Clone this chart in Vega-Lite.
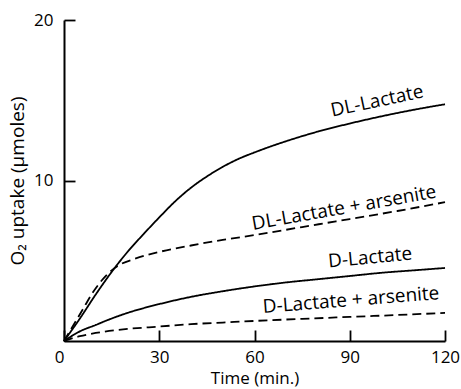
{
  "$schema": "https://vega.github.io/schema/vega-lite/v6.json",
  "autosize": {"type": "none"},
  "padding": {"left": 64, "top": 20, "right": 16, "bottom": 48},
  "width": 381,
  "height": 321,
  "background": "white",
  "config": {
    "view": {"stroke": null},
    "font": "Open Sans",
    "axis": {
      "grid": false,
      "domainColor": "black",
      "domainWidth": 2,
      "tickColor": "black",
      "tickWidth": 1.8,
      "tickSize": -11,
      "labelFont": "Open Sans",
      "labelFontSize": 17,
      "labelColor": "black",
      "titleFont": "Open Sans",
      "titleFontSize": 17,
      "titleFontWeight": "normal",
      "titleColor": "black"
    }
  },
  "datasets": {
    "curves": [
      {"series": "DL-Lactate", "arsenite": "no", "t": 0, "uptake": 0},
      {"series": "DL-Lactate", "arsenite": "no", "t": 5, "uptake": 1.4},
      {"series": "DL-Lactate", "arsenite": "no", "t": 10, "uptake": 2.9},
      {"series": "DL-Lactate", "arsenite": "no", "t": 15, "uptake": 4.3},
      {"series": "DL-Lactate", "arsenite": "no", "t": 20, "uptake": 5.55},
      {"series": "DL-Lactate", "arsenite": "no", "t": 25, "uptake": 6.65},
      {"series": "DL-Lactate", "arsenite": "no", "t": 30, "uptake": 7.7},
      {"series": "DL-Lactate", "arsenite": "no", "t": 35, "uptake": 8.7},
      {"series": "DL-Lactate", "arsenite": "no", "t": 40, "uptake": 9.55},
      {"series": "DL-Lactate", "arsenite": "no", "t": 45, "uptake": 10.25},
      {"series": "DL-Lactate", "arsenite": "no", "t": 50, "uptake": 10.85},
      {"series": "DL-Lactate", "arsenite": "no", "t": 55, "uptake": 11.35},
      {"series": "DL-Lactate", "arsenite": "no", "t": 60, "uptake": 11.75},
      {"series": "DL-Lactate", "arsenite": "no", "t": 70, "uptake": 12.45},
      {"series": "DL-Lactate", "arsenite": "no", "t": 80, "uptake": 13.05},
      {"series": "DL-Lactate", "arsenite": "no", "t": 90, "uptake": 13.55},
      {"series": "DL-Lactate", "arsenite": "no", "t": 100, "uptake": 14.0},
      {"series": "DL-Lactate", "arsenite": "no", "t": 110, "uptake": 14.4},
      {"series": "DL-Lactate", "arsenite": "no", "t": 120, "uptake": 14.75},
      {"series": "DL-Lactate + arsenite", "arsenite": "yes", "t": 0, "uptake": 0},
      {"series": "DL-Lactate + arsenite", "arsenite": "yes", "t": 3, "uptake": 1.0},
      {"series": "DL-Lactate + arsenite", "arsenite": "yes", "t": 6, "uptake": 2.0},
      {"series": "DL-Lactate + arsenite", "arsenite": "yes", "t": 9, "uptake": 3.0},
      {"series": "DL-Lactate + arsenite", "arsenite": "yes", "t": 12, "uptake": 3.8},
      {"series": "DL-Lactate + arsenite", "arsenite": "yes", "t": 15, "uptake": 4.4},
      {"series": "DL-Lactate + arsenite", "arsenite": "yes", "t": 18, "uptake": 4.8},
      {"series": "DL-Lactate + arsenite", "arsenite": "yes", "t": 22, "uptake": 5.1},
      {"series": "DL-Lactate + arsenite", "arsenite": "yes", "t": 26, "uptake": 5.35},
      {"series": "DL-Lactate + arsenite", "arsenite": "yes", "t": 30, "uptake": 5.55},
      {"series": "DL-Lactate + arsenite", "arsenite": "yes", "t": 40, "uptake": 5.95},
      {"series": "DL-Lactate + arsenite", "arsenite": "yes", "t": 50, "uptake": 6.3},
      {"series": "DL-Lactate + arsenite", "arsenite": "yes", "t": 60, "uptake": 6.6},
      {"series": "DL-Lactate + arsenite", "arsenite": "yes", "t": 75, "uptake": 7.1},
      {"series": "DL-Lactate + arsenite", "arsenite": "yes", "t": 90, "uptake": 7.6},
      {"series": "DL-Lactate + arsenite", "arsenite": "yes", "t": 105, "uptake": 8.1},
      {"series": "DL-Lactate + arsenite", "arsenite": "yes", "t": 120, "uptake": 8.65},
      {"series": "D-Lactate", "arsenite": "no", "t": 0, "uptake": 0},
      {"series": "D-Lactate", "arsenite": "no", "t": 5, "uptake": 0.6},
      {"series": "D-Lactate", "arsenite": "no", "t": 10, "uptake": 1.0},
      {"series": "D-Lactate", "arsenite": "no", "t": 15, "uptake": 1.4},
      {"series": "D-Lactate", "arsenite": "no", "t": 20, "uptake": 1.75},
      {"series": "D-Lactate", "arsenite": "no", "t": 30, "uptake": 2.3},
      {"series": "D-Lactate", "arsenite": "no", "t": 40, "uptake": 2.75},
      {"series": "D-Lactate", "arsenite": "no", "t": 50, "uptake": 3.1},
      {"series": "D-Lactate", "arsenite": "no", "t": 60, "uptake": 3.4},
      {"series": "D-Lactate", "arsenite": "no", "t": 70, "uptake": 3.65},
      {"series": "D-Lactate", "arsenite": "no", "t": 80, "uptake": 3.85},
      {"series": "D-Lactate", "arsenite": "no", "t": 90, "uptake": 4.05},
      {"series": "D-Lactate", "arsenite": "no", "t": 100, "uptake": 4.25},
      {"series": "D-Lactate", "arsenite": "no", "t": 110, "uptake": 4.4},
      {"series": "D-Lactate", "arsenite": "no", "t": 120, "uptake": 4.55},
      {"series": "D-Lactate + arsenite", "arsenite": "yes", "t": 0, "uptake": 0},
      {"series": "D-Lactate + arsenite", "arsenite": "yes", "t": 5, "uptake": 0.3},
      {"series": "D-Lactate + arsenite", "arsenite": "yes", "t": 10, "uptake": 0.5},
      {"series": "D-Lactate + arsenite", "arsenite": "yes", "t": 20, "uptake": 0.75},
      {"series": "D-Lactate + arsenite", "arsenite": "yes", "t": 30, "uptake": 0.9},
      {"series": "D-Lactate + arsenite", "arsenite": "yes", "t": 40, "uptake": 1.05},
      {"series": "D-Lactate + arsenite", "arsenite": "yes", "t": 50, "uptake": 1.15},
      {"series": "D-Lactate + arsenite", "arsenite": "yes", "t": 60, "uptake": 1.25},
      {"series": "D-Lactate + arsenite", "arsenite": "yes", "t": 75, "uptake": 1.38},
      {"series": "D-Lactate + arsenite", "arsenite": "yes", "t": 90, "uptake": 1.5},
      {"series": "D-Lactate + arsenite", "arsenite": "yes", "t": 105, "uptake": 1.62},
      {"series": "D-Lactate + arsenite", "arsenite": "yes", "t": 120, "uptake": 1.75}
    ]
  },
  "layer": [
    {
      "data": {"name": "curves"},
      "mark": {"type": "line", "color": "black", "strokeWidth": 1.8, "interpolate": "monotone"},
      "encoding": {
        "x": {
          "field": "t", "type": "quantitative",
          "scale": {"domain": [0, 120], "nice": false},
          "axis": {
            "values": [0, 30, 60, 90, 120],
            "title": "Time (min.)",
            "labelPadding": 19,
            "labelAlign": {"condition": {"test": "datum.value === 0", "value": "right"}, "value": "center"},
            "titlePadding": 5
          }
        },
        "y": {
          "field": "uptake", "type": "quantitative",
          "scale": {"domain": [0, 20], "nice": false},
          "axis": {"values": [10, 20], "title": "O₂ uptake (μmoles)", "titleFontSize": 19, "labelPadding": 22, "titlePadding": 6}
        },
        "detail": {"field": "series"},
        "strokeDash": {
          "field": "arsenite", "type": "nominal",
          "scale": {"domain": ["no", "yes"], "range": [[1, 0], [9, 5]]},
          "legend": null
        }
      }
    },
    {
      "data": {"values": [{"label": "DL-Lactate", "t": 98.6, "uptake": 14.95}]},
      "mark": {"type": "text", "angle": -12, "fontSize": 19, "font": "Open Sans", "color": "black"},
      "encoding": {"x": {"field": "t", "type": "quantitative"}, "y": {"field": "uptake", "type": "quantitative"}, "text": {"field": "label"}}
    },
    {
      "data": {"values": [{"label": "DL-Lactate + arsenite", "t": 88.2, "uptake": 8.3}]},
      "mark": {"type": "text", "angle": -10, "fontSize": 19, "font": "Open Sans", "color": "black"},
      "encoding": {"x": {"field": "t", "type": "quantitative"}, "y": {"field": "uptake", "type": "quantitative"}, "text": {"field": "label"}}
    },
    {
      "data": {"values": [{"label": "D-Lactate", "t": 96.4, "uptake": 5.2}]},
      "mark": {"type": "text", "angle": -5.5, "fontSize": 19, "font": "Open Sans", "color": "black"},
      "encoding": {"x": {"field": "t", "type": "quantitative"}, "y": {"field": "uptake", "type": "quantitative"}, "text": {"field": "label"}}
    },
    {
      "data": {"values": [{"label": "D-Lactate + arsenite", "t": 90.4, "uptake": 2.55}]},
      "mark": {"type": "text", "angle": -4.5, "fontSize": 19, "font": "Open Sans", "color": "black"},
      "encoding": {"x": {"field": "t", "type": "quantitative"}, "y": {"field": "uptake", "type": "quantitative"}, "text": {"field": "label"}}
    }
  ]
}
